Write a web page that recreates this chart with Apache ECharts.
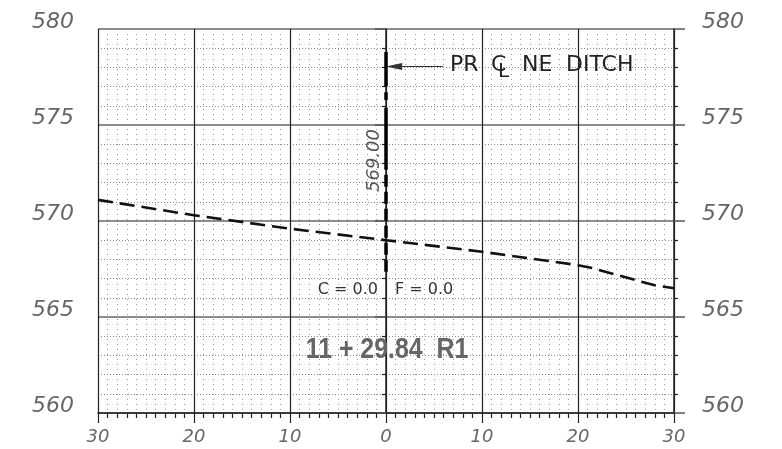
<!DOCTYPE html>
<html>
<head>
<meta charset="utf-8">
<script src="https://cdn.jsdelivr.net/npm/echarts@6/dist/echarts.min.js"></script>
<style>
html,body{margin:0;padding:0;background:#fff;}
#chart{width:782px;height:449px;}
</style>
</head>
<body>
<div id="chart"></div>
<script>
// ---- data ----
const groundX = [-30, -20, -10, 0, 10, 20, 21.5, 26.5, 28, 30];
const groundY = [571.1, 570.3, 569.6, 569.0, 568.4, 567.7, 567.55, 566.85, 566.65, 566.5];
const xTicks = [-30, -20, -10, 0, 10, 20, 30];
const yTicks = [560, 565, 570, 575, 580];
const ditchX = 0;
const ditchTop = 578.8;
const ditchBottom = 567.1;
const ditchElev = "569.00";
const stationLabel = "11 + 29.84  R1";
const cutLabel = "C = 0.0";
const fillLabel = "F = 0.0";

const chart = echarts.init(document.getElementById('chart'), null, {renderer: 'canvas'});

const groundData = groundX.map((x, i) => [x, groundY[i]]);

const yLabelStyle = {
  fontFamily: 'DejaVu Sans', fontStyle: 'italic', fontSize: 22, color: '#666',
  verticalAlign: 'bottom', lineHeight: 14
};

function yAxisCfg(pos, withSplit) {
  return {
    type: 'value', position: pos, min: yTicks[0], max: yTicks[yTicks.length - 1], interval: 5,
    axisLine: {show: true, lineStyle: {color: '#222', width: 1.5}},
    axisTick: {show: true, length: 11, lineStyle: {color: '#555', width: 1.5}},
    minorTick: {show: true, splitNumber: 5, length: 4, lineStyle: {color: '#222', width: 1.2}},
    splitLine: {show: withSplit, lineStyle: {color: '#666', width: 1.5}},
    minorSplitLine: {show: withSplit, lineStyle: {color: '#888', width: 1, type: [1, 2]}},
    axisLabel: Object.assign({margin: pos === 'left' ? 24 : 28, formatter: v => yTicks.includes(v) ? String(v) : ''}, yLabelStyle)
  };
}

chart.setOption({
  animation: false,
  grid: {left: 98, right: 108, top: 29, bottom: 36, containLabel: false},
  xAxis: {
    type: 'value', min: xTicks[0], max: xTicks[xTicks.length - 1], interval: 10,
    axisLine: {show: true, onZero: false, lineStyle: {color: '#222', width: 1.5}},
    axisTick: {show: true, length: 10, lineStyle: {color: '#222', width: 1.2}},
    minorTick: {show: true, splitNumber: 10, length: 5, lineStyle: {color: '#222', width: 1.2}},
    splitLine: {show: true, lineStyle: {color: '#222', width: 1.2}},
    minorSplitLine: {show: true, lineStyle: {color: '#999', width: 1, type: [1, 4]}},
    axisLabel: {
      margin: 15, fontFamily: 'DejaVu Sans', fontStyle: 'italic', fontSize: 18, color: '#666',
      showMinLabel: true, showMaxLabel: true,
      formatter: v => String(Math.abs(v))
    }
  },
  yAxis: [yAxisCfg('left', true), yAxisCfg('right', false)],
  series: [
    {
      type: 'line', data: groundData, symbol: 'none', z: 5,
      lineStyle: {color: '#111', width: 2.6, type: [15, 7]}
    },
    {
      type: 'line', data: [[ditchX, 573.3], [ditchX, ditchBottom]], symbol: 'none', z: 6,
      lineStyle: {color: '#000', width: 3.5, type: [12, 5]}
    },
    {
      type: 'line', data: [[ditchX, ditchTop], [ditchX, 577.0]], symbol: 'none', z: 6,
      lineStyle: {color: '#000', width: 3.5}
    },
    {
      type: 'line', data: [[ditchX, 576.7], [ditchX, 576.3]], symbol: 'none', z: 6,
      lineStyle: {color: '#000', width: 3.5}
    },
    {
      type: 'line', data: [[ditchX, 575.9], [ditchX, 573.3]], symbol: 'none', z: 6,
      lineStyle: {color: '#000', width: 3.5},
      markLine: {
        silent: true, symbol: ['triangle', 'none'], symbolSize: [7, 16],
        label: {show: false},
        lineStyle: {color: '#333', width: 1.2, type: 'solid'},
        data: [[{coord: [0.85, 578.05]}, {coord: [5.95, 578.05]}]]
      }
    }
  ]
});

function px(x, y) { return chart.convertToPixel({gridIndex: 0}, [x, y]); }

const pTitle = px(0.0, 578.05);
const pElev = px(0, 573.15);
const pCF = px(0, 566.4);
const pSta = px(0, 563.3);

chart.setOption({
  graphic: [
    {type: 'text', x: pTitle[0] + 64, y: pTitle[1] - 1, z: 20,
      style: {text: 'PR', fontFamily: 'DejaVu Sans', fontSize: 22, fill: '#222', verticalAlign: 'middle'}},
    {type: 'text', x: pTitle[0] + 105, y: pTitle[1] - 1, z: 20,
      style: {text: 'C', fontFamily: 'DejaVu Sans', fontSize: 22, fill: '#222', verticalAlign: 'middle'}},
    {type: 'text', x: pTitle[0] + 112, y: pTitle[1] + 5, z: 20,
      style: {text: 'L', fontFamily: 'DejaVu Sans', fontSize: 20, fill: '#222', verticalAlign: 'middle'}},
    {type: 'text', x: pTitle[0] + 136, y: pTitle[1] - 1, z: 20,
      style: {text: 'NE', fontFamily: 'DejaVu Sans', fontSize: 22, fill: '#222', verticalAlign: 'middle'}},
    {type: 'text', x: pTitle[0] + 180, y: pTitle[1] - 1, z: 20,
      style: {text: 'DITCH', fontFamily: 'DejaVu Sans', fontSize: 22, fill: '#222', verticalAlign: 'middle'}},
    {type: 'text', x: pElev[0] - 12, y: pElev[1], rotation: Math.PI / 2, z: 20,
      style: {text: ditchElev, fontFamily: 'DejaVu Sans', fontStyle: 'italic', fontSize: 18, fill: '#555',
        align: 'center', verticalAlign: 'middle'}},
    {type: 'text', x: pCF[0] - 8, y: pCF[1], z: 20,
      style: {text: cutLabel, fontFamily: 'DejaVu Sans', fontSize: 16, fill: '#333', align: 'right', verticalAlign: 'middle'}},
    {type: 'text', x: pCF[0] + 9, y: pCF[1], z: 20,
      style: {text: fillLabel, fontFamily: 'DejaVu Sans', fontSize: 16, fill: '#333', align: 'left', verticalAlign: 'middle'}},
    {type: 'text', x: pSta[0] + 1, y: pSta[1], scaleX: 0.83, z: 20,
      style: {text: stationLabel, fontFamily: "'Liberation Sans', Arial, sans-serif",
        fontWeight: 'bold', fontSize: 30, fill: '#666', align: 'center', verticalAlign: 'middle'}}
  ]
});
</script>
</body>
</html>
